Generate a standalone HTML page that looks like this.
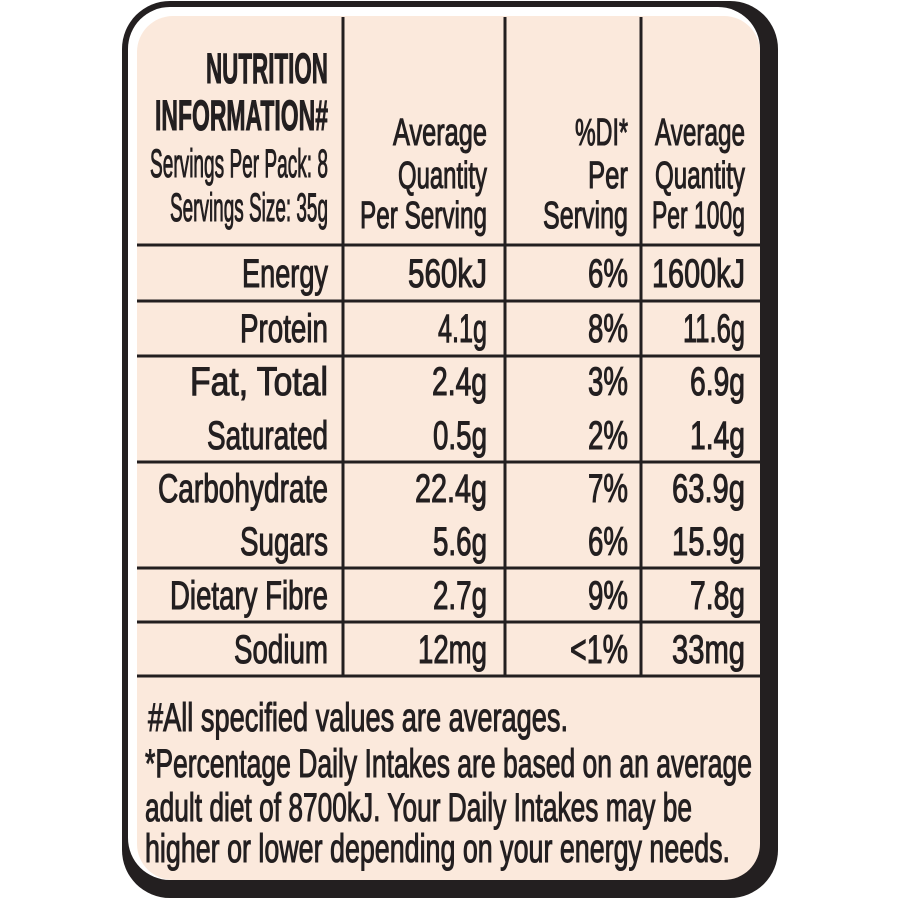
<!DOCTYPE html>
<html><head><style>
html,body{margin:0;padding:0;background:#fff;width:900px;height:900px;overflow:hidden}
svg text{font-family:"Liberation Sans Narrow","Liberation Sans",sans-serif;fill:#231f20;stroke:#231f20;stroke-width:1.1}
</style></head><body>
<svg width="900" height="900" viewBox="0 0 900 900" xmlns="http://www.w3.org/2000/svg">
<rect x="122" y="1" width="656" height="897" rx="48" fill="#231f20"/>
<rect x="128" y="7" width="632" height="873" rx="42" fill="#ffffff"/>
<rect x="137" y="16" width="623" height="864" rx="36" fill="#fbe9dc"/>
<g stroke="#231f20" stroke-width="3">
<line x1="343" y1="17" x2="343" y2="676"/>
<line x1="505" y1="17" x2="505" y2="676"/>
<line x1="641" y1="17" x2="641" y2="676"/>
<line x1="137" y1="245" x2="760" y2="245"/>
<line x1="137" y1="301" x2="760" y2="301"/>
<line x1="137" y1="356" x2="760" y2="356"/>
<line x1="137" y1="462" x2="760" y2="462"/>
<line x1="137" y1="568" x2="760" y2="568"/>
<line x1="137" y1="622" x2="760" y2="622"/>
<line x1="137" y1="676" x2="760" y2="676"/>
</g>
<g text-anchor="end" font-size="40">
<text x="328" y="83" font-size="43" textLength="122" lengthAdjust="spacingAndGlyphs" font-weight="bold" stroke-width="0.6">NUTRITION</text>
<text x="328" y="130" font-size="43" textLength="173" lengthAdjust="spacingAndGlyphs" font-weight="bold" stroke-width="0.6">INFORMATION#</text>
<text x="328" y="177" font-size="40" textLength="178" lengthAdjust="spacingAndGlyphs">Servings Per Pack: 8</text>
<text x="328" y="221" font-size="40" textLength="158" lengthAdjust="spacingAndGlyphs">Servings Size: 35g</text>

<text x="487" y="145" font-size="38" textLength="94" lengthAdjust="spacingAndGlyphs">Average</text>
<text x="487" y="188" font-size="38" textLength="89" lengthAdjust="spacingAndGlyphs">Quantity</text>
<text x="487" y="228" font-size="38" textLength="127" lengthAdjust="spacingAndGlyphs">Per Serving</text>
<text x="628" y="145" font-size="38" textLength="53" lengthAdjust="spacingAndGlyphs">%DI*</text>
<text x="628" y="188" font-size="38" textLength="40" lengthAdjust="spacingAndGlyphs">Per</text>
<text x="628" y="228" font-size="38" textLength="85" lengthAdjust="spacingAndGlyphs">Serving</text>
<text x="745" y="145" font-size="38" textLength="90" lengthAdjust="spacingAndGlyphs">Average</text>
<text x="745" y="188" font-size="38" textLength="90" lengthAdjust="spacingAndGlyphs">Quantity</text>
<text x="745" y="228" font-size="38" textLength="93" lengthAdjust="spacingAndGlyphs">Per 100g</text>

<text x="328" y="287" textLength="86" lengthAdjust="spacingAndGlyphs">Energy</text>
<text x="328" y="342" textLength="88" lengthAdjust="spacingAndGlyphs">Protein</text>
<text x="328" y="395" textLength="138" lengthAdjust="spacingAndGlyphs">Fat, Total</text>
<text x="328" y="449" textLength="121" lengthAdjust="spacingAndGlyphs">Saturated</text>
<text x="328" y="502" textLength="170" lengthAdjust="spacingAndGlyphs">Carbohydrate</text>
<text x="328" y="555" textLength="88" lengthAdjust="spacingAndGlyphs">Sugars</text>
<text x="328" y="609" textLength="158" lengthAdjust="spacingAndGlyphs">Dietary Fibre</text>
<text x="328" y="663" textLength="94" lengthAdjust="spacingAndGlyphs">Sodium</text>

<text x="487" y="287" textLength="79" lengthAdjust="spacingAndGlyphs">560kJ</text>
<text x="487" y="342" textLength="49" lengthAdjust="spacingAndGlyphs">4.1g</text>
<text x="487" y="395" textLength="55" lengthAdjust="spacingAndGlyphs">2.4g</text>
<text x="487" y="449" textLength="54" lengthAdjust="spacingAndGlyphs">0.5g</text>
<text x="487" y="502" textLength="72" lengthAdjust="spacingAndGlyphs">22.4g</text>
<text x="487" y="555" textLength="54" lengthAdjust="spacingAndGlyphs">5.6g</text>
<text x="487" y="609" textLength="54" lengthAdjust="spacingAndGlyphs">2.7g</text>
<text x="487" y="663" textLength="69" lengthAdjust="spacingAndGlyphs">12mg</text>

<text x="628" y="287" textLength="40" lengthAdjust="spacingAndGlyphs">6%</text>
<text x="628" y="342" textLength="40" lengthAdjust="spacingAndGlyphs">8%</text>
<text x="628" y="395" textLength="40" lengthAdjust="spacingAndGlyphs">3%</text>
<text x="628" y="449" textLength="40" lengthAdjust="spacingAndGlyphs">2%</text>
<text x="628" y="502" textLength="40" lengthAdjust="spacingAndGlyphs">7%</text>
<text x="628" y="555" textLength="40" lengthAdjust="spacingAndGlyphs">6%</text>
<text x="628" y="609" textLength="40" lengthAdjust="spacingAndGlyphs">9%</text>
<text x="628" y="663" textLength="58" lengthAdjust="spacingAndGlyphs">&lt;1%</text>

<text x="745" y="287" textLength="93" lengthAdjust="spacingAndGlyphs">1600kJ</text>
<text x="745" y="342" textLength="62" lengthAdjust="spacingAndGlyphs">11.6g</text>
<text x="745" y="395" textLength="55" lengthAdjust="spacingAndGlyphs">6.9g</text>
<text x="745" y="449" textLength="55" lengthAdjust="spacingAndGlyphs">1.4g</text>
<text x="745" y="502" textLength="73" lengthAdjust="spacingAndGlyphs">63.9g</text>
<text x="745" y="555" textLength="73" lengthAdjust="spacingAndGlyphs">15.9g</text>
<text x="745" y="609" textLength="55" lengthAdjust="spacingAndGlyphs">7.8g</text>
<text x="745" y="663" textLength="73" lengthAdjust="spacingAndGlyphs">33mg</text>
</g>
<g font-size="40">
<text x="148" y="731" textLength="420" lengthAdjust="spacingAndGlyphs">#All specified values are averages.</text>
<text x="145" y="777" textLength="607" lengthAdjust="spacingAndGlyphs">*Percentage Daily Intakes are based on an average</text>
<text x="145" y="821" textLength="547" lengthAdjust="spacingAndGlyphs">adult diet of 8700kJ. Your Daily Intakes may be</text>
<text x="145" y="862" textLength="585" lengthAdjust="spacingAndGlyphs">higher or lower depending on your energy needs.</text>
</g>
</svg>
</body></html>
